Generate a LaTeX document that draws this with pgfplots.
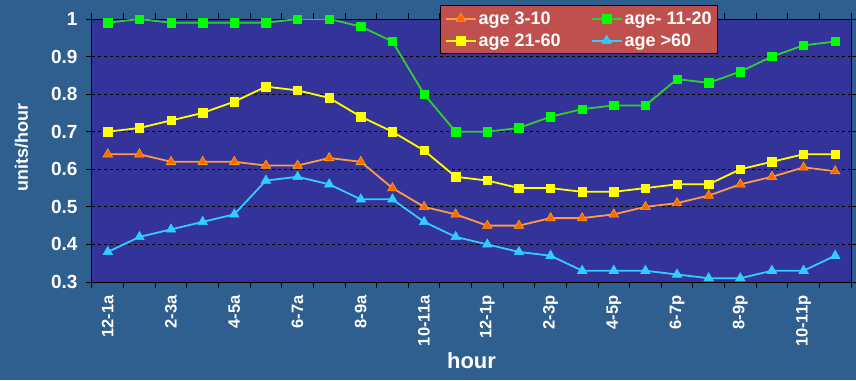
\documentclass[border=0pt]{standalone}
\usepackage{fontspec}
\setmainfont{Liberation Sans}
\usepackage{pgfplots}
\pgfplotsset{compat=1.18}
\definecolor{bgblue}{HTML}{2E5F8E}
\definecolor{plotblue}{HTML}{333399}
\definecolor{legred}{HTML}{C0504D}
\definecolor{orline}{HTML}{FF9944}
\definecolor{ormark}{HTML}{FF6600}
\definecolor{grline}{HTML}{33CC33}
\definecolor{grmark}{HTML}{00FF00}
\definecolor{yel}{HTML}{FFFF00}
\definecolor{cy}{HTML}{33CCFF}
\begin{document}
\begin{tikzpicture}
\useasboundingbox (0,0) rectangle (856pt,380pt);
\fill[bgblue] (0,0) rectangle (856pt,380pt);
\begin{axis}[
  at={(92pt,98pt)}, anchor=south west,
  scale only axis, width=759pt, height=263pt,
  axis background/.style={fill=plotblue},
  axis line style={black, line width=1pt},
  xmin=-0.5, xmax=23.5, ymin=0.3, ymax=1,
  xtick={0,2,...,22},
  xticklabels={12-1a,2-3a,4-5a,6-7a,8-9a,10-11a,12-1p,2-3p,4-5p,6-7p,8-9p,10-11p},
  major x tick style={draw=none},
  minor xtick={-0.5,0.5,...,23.5},
  minor tick length=6pt,
  major tick length=6pt,
  tick align=outside,
  tick style={black, line width=1pt},
  ytick={0.3,0.4,...,1.0},
  yticklabels={0.3,0.4,0.5,0.6,0.7,0.8,0.9,1},
  ymajorgrids,
  grid style={black, dashed, line width=0.8pt},
  /pgf/number format/assume math mode=true,
  xticklabel style={rotate=90, anchor=east, font=\fontsize{16.5}{18}\selectfont\bfseries, text=white, xshift=-4pt},
  yticklabel style={font=\fontsize{19}{21}\selectfont\bfseries, text=white, xshift=-5pt},
  xlabel={hour}, ylabel={units/hour},
  xlabel style={at={(axis description cs:0.5,-0.30)}, anchor=center, font=\fontsize{22}{24}\selectfont\bfseries, text=white},
  ylabel style={at={(axis description cs:-0.093,0.51)}, anchor=center, font=\fontsize{18}{20}\selectfont\bfseries, text=white},
  legend columns=2,
  legend image code/.code={\draw[mark repeat=2,mark phase=2] plot coordinates {(0pt,0pt)(15pt,0pt)(30pt,0pt)};},
  legend style={at={(axis description cs:0.459,1.053)}, anchor=north west, fill=legred, draw=black, line width=1pt,
    font=\fontsize{18}{20}\selectfont\bfseries, text=white, inner xsep=4pt, inner ysep=4pt,
    /tikz/row sep=4pt,
    /tikz/every even column/.append style={column sep=28pt}},
  legend cell align=left,
]
\addplot[orline, line width=1.8pt, mark=triangle*, mark size=5.5pt, mark options={fill=ormark, draw=orange!70!yellow, line width=0.6pt}] coordinates {
(0,0.64)(1,0.64)(2,0.62)(3,0.62)(4,0.62)(5,0.61)(6,0.61)(7,0.63)(8,0.62)(9,0.55)(10,0.50)(11,0.48)
(12,0.45)(13,0.45)(14,0.47)(15,0.47)(16,0.48)(17,0.50)(18,0.51)(19,0.53)(20,0.56)(21,0.58)(22,0.605)(23,0.595)};
\addlegendentry{age 3-10}
\addplot[grline, line width=1.8pt, mark=square*, mark size=4.2pt, mark options={fill=grmark, draw=grmark, line width=0.6pt}] coordinates {
(0,0.99)(1,1.0)(2,0.99)(3,0.99)(4,0.99)(5,0.99)(6,1.0)(7,1.0)(8,0.98)(9,0.94)(10,0.80)(11,0.70)
(12,0.70)(13,0.71)(14,0.74)(15,0.76)(16,0.77)(17,0.77)(18,0.84)(19,0.83)(20,0.86)(21,0.90)(22,0.93)(23,0.94)};
\addlegendentry{age- 11-20}
\addplot[yel, line width=1.8pt, mark=square*, mark size=4.2pt, mark options={fill=yel, draw=yel, line width=0.6pt}] coordinates {
(0,0.70)(1,0.71)(2,0.73)(3,0.75)(4,0.78)(5,0.82)(6,0.81)(7,0.79)(8,0.74)(9,0.70)(10,0.65)(11,0.58)
(12,0.57)(13,0.55)(14,0.55)(15,0.54)(16,0.54)(17,0.55)(18,0.56)(19,0.56)(20,0.60)(21,0.62)(22,0.64)(23,0.64)};
\addlegendentry{age 21-60}
\addplot[cy, line width=1.8pt, mark=triangle*, mark size=5.5pt, mark options={fill=cy, draw=cy, line width=0.6pt}] coordinates {
(0,0.38)(1,0.42)(2,0.44)(3,0.46)(4,0.48)(5,0.57)(6,0.58)(7,0.56)(8,0.52)(9,0.52)(10,0.46)(11,0.42)
(12,0.40)(13,0.38)(14,0.37)(15,0.33)(16,0.33)(17,0.33)(18,0.32)(19,0.31)(20,0.31)(21,0.33)(22,0.33)(23,0.37)};
\addlegendentry{age >60}
\end{axis}
\end{tikzpicture}
\end{document}
